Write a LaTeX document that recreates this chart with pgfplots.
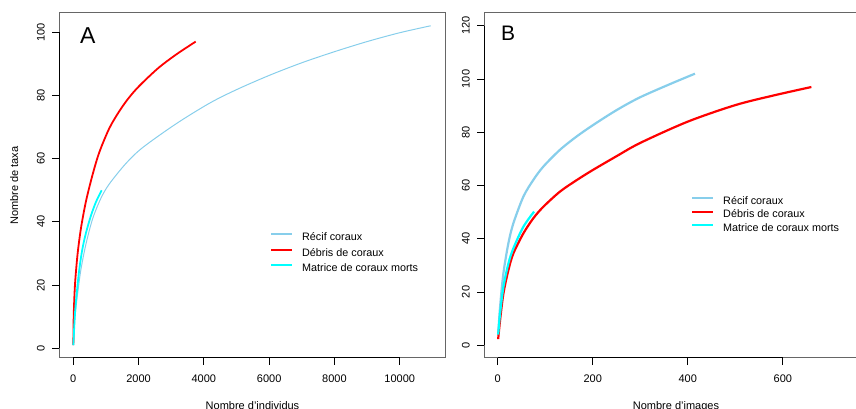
\documentclass[border=0pt]{standalone}
\usepackage{fontspec}
\setmainfont{Liberation Sans}
\usepackage{pgfplots}
\pgfplotsset{compat=1.18}

\definecolor{skyblue}{RGB}{135,206,235}
\definecolor{boxgray}{RGB}{102,102,102}
\definecolor{rred}{RGB}{255,0,0}
\definecolor{rcyan}{RGB}{0,255,255}

\pgfplotsset{
  rpanel/.style={
    scale only axis, anchor=south west,
    axis line style={boxgray, line width=1pt},
    tick align=outside, xtick pos=bottom, ytick pos=left,
    major tick length=7pt, tick style={black, line width=0.8pt},
    /pgf/number format/assume math mode=true,
    /pgf/number format/1000 sep={},
    scaled x ticks=false,
    ticklabel style={font=\fontsize{11}{11}\selectfont, inner sep=0pt},
    xticklabel style={anchor=north, yshift=-10pt},
    % rotated labels: local y points left
    yticklabel style={rotate=90, anchor=south, yshift=7pt},
    legend cell align=left,
    legend image code/.code={\draw[#1, line width=2pt] (0pt,3.5pt) -- (21pt,3.5pt);},
    clip=false,
  },
  rleg/.style={
    draw=none, fill=none, inner sep=0pt, column sep=9pt,
    font=\fontsize{10.8}{13}\selectfont,
    nodes={inner sep=0pt, text height=8pt, text depth=2.5pt},
  },
}

\begin{document}
\begin{tikzpicture}
\useasboundingbox (0pt,0pt) rectangle (856pt,409pt);

% ---- panel A : individuals
\begin{axis}[rpanel, at={(59pt,51pt)}, width=386pt, height=345pt,
  xmin=-438, xmax=11388, ymin=-3.04, ymax=106.04,
  xtick={0,2000,...,10000}, ytick={0,20,...,100},
  legend style={rleg, row sep=5pt, at={(rel axis cs:0.5466,0.3638)}, anchor=north west}]
\addplot[skyblue, line width=1pt, smooth] coordinates {
 (1,1) (30,7) (61,11) (133,17.4) (235,25) (388,33) (593,41) (848,47.5)
 (1104,52) (1615,58.5) (2126,63.5) (3148,71) (4170,77.5) (5000,81.8)
 (6000,86.3) (7000,90.3) (8000,93.8) (9000,97) (10000,99.8) (10950,102)};
\addlegendentry{Récif coraux}
\addplot[rred, line width=1.8pt, smooth] coordinates {
 (1,1) (10,9) (30,15.5) (61,21.6) (133,30) (235,38) (388,46.5) (593,55)
 (797,62) (1104,69.6) (1410,75) (1700,79.2) (2024,83) (2600,88.6) (3150,92.9) (3750,97)};
\addlegendentry{Débris de coraux}
\addplot[rcyan, line width=1.8pt, smooth] coordinates {
 (1,1) (40,9) (82,15) (184,25) (280,31.5) (388,36.5) (542,42) (695,46.3) (869,50)};
\addlegendentry{Matrice de coraux morts}
\draw[black, line width=1pt] (axis cs:0,-3.04) -- (axis cs:10000,-3.04);
\draw[black, line width=1pt] (axis cs:-438,0) -- (axis cs:-438,100);
\node[anchor=base west, inner sep=0pt, font=\fontsize{23}{23}\selectfont]
  at (rel axis cs:0.0544,0.912) {A};
\end{axis}

% ---- panel B : images
\begin{axis}[rpanel, at={(484pt,51pt)}, width=373pt, height=345pt,
  xmin=-28.8, xmax=756, ymin=-4.8, ymax=124.8,
  xtick={0,200,400,600}, ytick={0,20,...,120},
  legend style={rleg, row sep=2.9pt, at={(rel axis cs:0.555,0.469)}, anchor=north west}]
\addplot[skyblue, line width=2.2pt, smooth] coordinates {
 (1,4) (5,14.4) (12,27) (22.5,38.3) (33,45.8) (54,55.8) (75,62.1) (96,67.1)
 (131,73.4) (166,78.4) (201.5,82.8) (250,88.3) (298,93) (360,97.9) (415,102)};
\addlegendentry{Récif coraux}
\addplot[rred, line width=2.2pt, smooth] coordinates {
 (1,2.3) (5,9.4) (12,19.4) (22.5,28.2) (33,34.5) (54,42) (75,47.7) (96,52)
 (131,57.7) (166,62) (200,65.8) (250,71) (300,76) (400,84) (500,90.2)
 (580,93.8) (660,97)};
\addlegendentry{Débris de coraux}
\addplot[rcyan, line width=2.2pt, smooth] coordinates {
 (1,4) (5,11.9) (12,21.9) (22.5,30.7) (33,36.4) (54,44.5) (76.6,50.2)};
\addlegendentry{Matrice de coraux morts}
\draw[black, line width=1pt] (axis cs:0,-4.8) -- (axis cs:600,-4.8);
\draw[black, line width=1pt] (axis cs:-28.8,0) -- (axis cs:-28.8,120);
\node[anchor=base west, inner sep=0pt, font=\fontsize{21}{21}\selectfont]
  at (rel axis cs:0.0456,0.919) {B};
\end{axis}

% ---- axis titles (R puts them in the outer margin)
\node[anchor=base, inner sep=0pt, font=\fontsize{11}{11}\selectfont]
  at (252.5pt,-0.5pt) {Nombre d'individus};
\node[anchor=base, inner sep=0pt, font=\fontsize{11}{11}\selectfont]
  at (676pt,-0.5pt) {Nombre d'images};
\node[anchor=base, rotate=90, inner sep=0pt, font=\fontsize{11}{11}\selectfont]
  at (18pt,223.5pt) {Nombre de taxa};
\end{tikzpicture}
\end{document}
